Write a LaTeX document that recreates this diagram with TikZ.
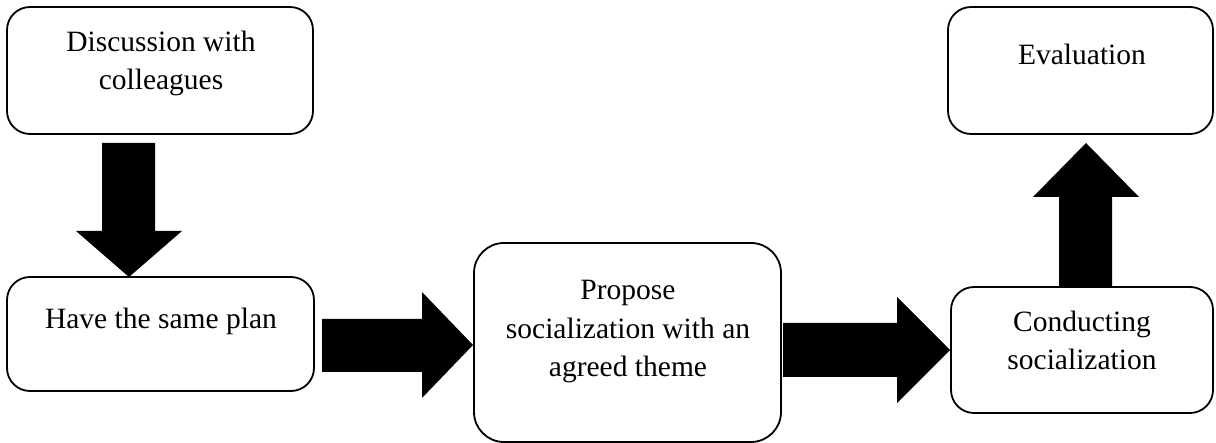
\documentclass[tikz,border=0pt]{standalone}
\usepackage{fontspec}
\setmainfont{Liberation Serif}
\begin{document}
\begin{tikzpicture}[x=1pt,y=-1pt,
  box/.style={draw=black, line width=1.8pt, rounded corners=23pt, inner sep=0pt, fill=white},
  txt/.style={font=\fontsize{29.5}{38.5}\selectfont, align=center, inner sep=0pt, anchor=base},
  blockarrow/.style={fill=black, draw=none}]
\useasboundingbox (0,0) rectangle (1216,443);
% boxes
\node[box, minimum width=306pt, minimum height=127pt] (b1) at (160,70.5) {};
\node[box, minimum width=307pt, minimum height=114pt] (b2) at (160.5,334) {};
\node[box, rounded corners=30pt, minimum width=307pt, minimum height=199pt] (b3) at (627.5,342.5) {};
\node[box, minimum width=262pt, minimum height=126pt] (b4) at (1082,350) {};
\node[box, minimum width=265pt, minimum height=127pt] (b5) at (1080.5,70.5) {};
% texts (base anchor = last line baseline)
\node[txt] (t1) at (161,90) {Discussion with\\colleagues};
\node[txt] (t2) at (161,329) {Have the same plan};
\node[txt] (t3) at (628,377) {Propose\\socialization with an\\agreed theme};
\node[txt] (t4) at (1082,370) {Conducting\\socialization};
\node[txt] (t5) at (1082,65) {Evaluation};
% block arrows
\fill[blockarrow] (102,143) -- (155,143) -- (155,231) -- (182,231) -- (129,277) -- (76,231) -- (102,231) -- cycle;
\fill[blockarrow] (322,319) -- (422,319) -- (422,292) -- (473,345) -- (422,398) -- (422,372) -- (322,372) -- cycle;
\fill[blockarrow] (783,323) -- (897,323) -- (897,297) -- (950,350) -- (897,403) -- (897,377) -- (783,377) -- cycle;
\fill[blockarrow] (1059,287) -- (1059,197) -- (1033,197) -- (1086,143) -- (1139,197) -- (1112,197) -- (1112,287) -- cycle;
\end{tikzpicture}
\end{document}
